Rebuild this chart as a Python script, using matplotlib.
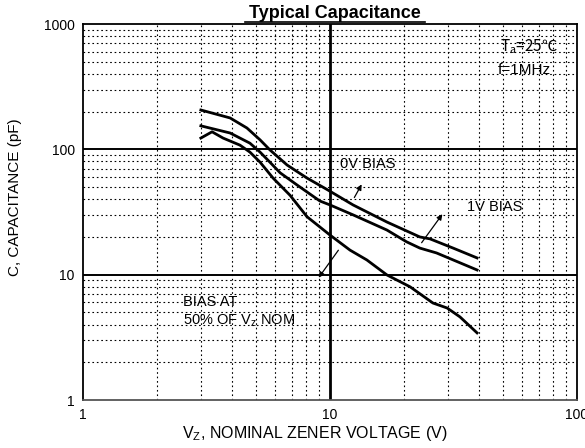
import matplotlib
matplotlib.use("Agg")
import matplotlib.pyplot as plt
from matplotlib.ticker import LogLocator, NullFormatter, FixedLocator, FixedFormatter

plt.rcParams['font.family'] = ['Liberation Sans', 'DejaVu Sans']

# 0V bias curve
vz_0v = [3.0, 3.94, 4.61, 5.21, 5.71, 6.7, 8.07, 9.8, 12.4, 17.0, 23.1, 25.4, 31.5, 39.4]
c_0v = [206, 178, 148, 119, 99, 75, 59, 47.4, 36, 26.3, 20.0, 19.3, 16.3, 13.6]

# 1V bias curve
vz_1v = [3.0, 3.94, 4.74, 5.21, 5.71, 6.28, 7.35, 9.1, 10.0, 12.4, 17.0, 20.4, 23.1, 27.0, 39.4]
c_1v = [154, 135, 112, 95, 79, 65, 52, 38.7, 36, 30, 22.7, 18.3, 16.3, 14.9, 10.9]

# Bias at 50% of Vz nom
vz_50 = [3.0, 3.33, 3.69, 4.32, 4.74, 5.21, 5.88, 6.89, 8.07, 10.0, 12.05, 14.1, 17.0, 21.1, 26.1, 29.8, 33.6, 39.4]
c_50 = [123, 138, 123, 108, 95, 79, 59, 43, 29, 20.7, 15.7, 13.1, 9.95, 8.0, 5.94, 5.42, 4.6, 3.43]

x_ticks = [1, 10, 100]
x_tick_labels = ["1", "10", "100"]
y_ticks = [1, 10, 100, 1000]
y_tick_labels = ["1", "10", "100", "1000"]

fig = plt.figure(figsize=(5.85, 4.48), dpi=100)
ax = fig.add_axes([83/585, 48/448, (577-83)/585, (400-24)/448])
ax.set_xscale('log')
ax.set_yscale('log')
ax.set_xlim(1, 100)
ax.set_ylim(1, 1000)

ax.xaxis.set_major_locator(FixedLocator(x_ticks))
ax.xaxis.set_major_formatter(FixedFormatter(x_tick_labels))
ax.yaxis.set_major_locator(FixedLocator(y_ticks))
ax.yaxis.set_major_formatter(FixedFormatter(y_tick_labels))
ax.xaxis.set_minor_locator(LogLocator(base=10, subs=range(2, 10)))
ax.yaxis.set_minor_locator(LogLocator(base=10, subs=range(2, 10)))
ax.xaxis.set_minor_formatter(NullFormatter())
ax.yaxis.set_minor_formatter(NullFormatter())
ax.tick_params(which='both', length=0, labelsize=10, pad=6)

ax.grid(which='minor', color='black', linestyle=(0, (1.5, 2.5)), linewidth=0.8)
ax.axvline(10, color='black', lw=2.0, zorder=2)
ax.axhline(10, color='black', lw=1.4, zorder=2)
ax.axhline(100, color='black', lw=1.4, zorder=2)
for s in ax.spines.values():
    s.set_linewidth(1.3)
    s.set_color('black')
ax.spines['bottom'].set_color('#555555')

ax.plot(vz_0v, c_0v, color='black', lw=2.0, zorder=3)
ax.plot(vz_1v, c_1v, color='black', lw=2.0, zorder=3)
ax.plot(vz_50, c_50, color='black', lw=2.0, zorder=3)

arrow = dict(arrowstyle='-|>', color='black', lw=0.9, mutation_scale=8)
ax.annotate('', xy=(10**((363-83)/247), 10**((400-182)/125.3)),
            xytext=(10**((353-83)/247), 10**((400-200)/125.3)), arrowprops=arrow)
ax.annotate('', xy=(10**((444-83)/247), 10**((400-212)/125.3)),
            xytext=(10**((420-83)/247), 10**((400-245)/125.3)), arrowprops=arrow)
ax.annotate('', xy=(10**((317-83)/247), 10**((400-280)/125.3)),
            xytext=(10**((340-83)/247), 10**((400-248)/125.3)), arrowprops=arrow)

fs = 10.5
ax.text(10**((340-83)/247), 10**((400-164)/125.3), '0V BIAS', fontsize=fs,
        va='center', ha='left')
ax.text(10**((467-83)/247), 10**((400-207)/125.3), '1V BIAS', fontsize=fs,
        va='center', ha='left')
ax.text(10**((183-83)/247), 10**((400-302)/125.3), 'BIAS AT', fontsize=fs,
        va='center', ha='left')
ax.text(10**((183-83)/247), 10**((400-321)/125.3), '50% OF V$_\\mathregular{z}$ NOM', fontsize=fs,
        va='center', ha='left')
ax.text(10**((500-83)/247), 10**((400-47)/125.3), 'T$_\\mathregular{a}$=25\u2103', fontsize=11,
        va='center', ha='left', family=['Noto Sans CJK SC', 'Liberation Sans'])
ax.text(10**((498-83)/247), 10**((400-70)/125.3), 'f=1MHz', fontsize=11,
        va='center', ha='left')

fig.text(335/585, 1 - 14/448, 'Typical Capacitance', fontsize=13, fontweight='bold',
         ha='center', va='center')
fig.add_artist(plt.Line2D([245/585, 425/585], [1 - 22/448, 1 - 22/448], color='black', lw=1.2))

ax.set_xlabel('V$_\\mathregular{Z}$, NOMINAL ZENER VOLTAGE (V)', fontsize=11.5)
ax.set_ylabel('C, CAPACITANCE (pF)', fontsize=11)
ax.xaxis.set_label_coords((315-83)/494, -(433-400)/376, transform=ax.transAxes)
ax.yaxis.set_label_coords(-(83-15)/494, (400-197)/376, transform=ax.transAxes)
ax.xaxis.label.set_va('center')
ax.yaxis.label.set_va('center')

fig.savefig('out.png', dpi=100)
